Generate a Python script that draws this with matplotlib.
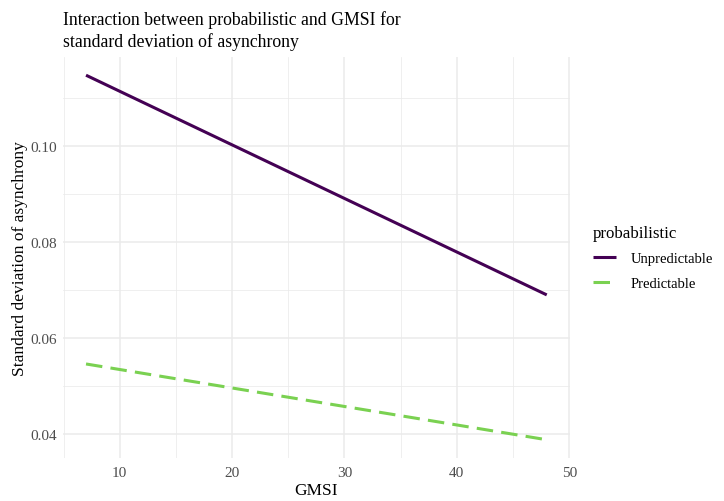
import numpy as np
import matplotlib.pyplot as plt
from matplotlib.ticker import MultipleLocator, FormatStrFormatter

# fitted lines (endpoints at GMSI = 7 and 48)
gmsi = [7, 48]
unpredictable = [0.1148, 0.0690]
predictable = [0.0546, 0.0388]
labels = ["Unpredictable", "Predictable"]
colors = ["#440154", "#7AD151"]

plt.rcParams['font.family'] = ['Liberation Serif', 'DejaVu Serif']

fig = plt.figure(figsize=(7.24, 5.02), dpi=100)
ax = fig.add_axes([0.087, 0.0857, 0.700, 0.7988])

ax.plot(gmsi, unpredictable, color=colors[0], lw=2.2, label=labels[0],
        solid_capstyle='butt')
ax.plot(gmsi, predictable, color=colors[1], lw=2.2, label=labels[1],
        dashes=(5.4, 2.7), dash_capstyle='butt')

# ggplot-like expansion of 5%
xr = gmsi[1] - gmsi[0]
ymin = min(predictable)
ymax = max(unpredictable)
yr = ymax - ymin
ax.set_xlim(gmsi[0] - 0.05 * xr, gmsi[1] + 0.05 * xr)
ax.set_ylim(ymin - 0.05 * yr, ymax + 0.05 * yr)

ax.xaxis.set_major_locator(MultipleLocator(10))
ax.xaxis.set_minor_locator(MultipleLocator(5))
ax.yaxis.set_major_locator(MultipleLocator(0.02))
ax.yaxis.set_minor_locator(MultipleLocator(0.01))
ax.yaxis.set_major_formatter(FormatStrFormatter('%.2f'))

ax.grid(which='major', color='#EBEBEB', lw=1.1)
ax.grid(which='minor', color='#EBEBEB', lw=0.55)
ax.set_axisbelow(True)
for s in ax.spines.values():
    s.set_visible(False)
ax.tick_params(which='both', length=0, labelsize=11, labelcolor='#4D4D4D')
ax.tick_params(axis='x', pad=6)
ax.tick_params(axis='y', pad=4)

ax.set_xlabel('GMSI', fontsize=12.5, labelpad=2)
ax.set_ylabel('Standard deviation of asynchrony', fontsize=12.5, labelpad=2)
ax.set_title('Interaction between probabilistic and GMSI for\nstandard deviation of asynchrony',
             fontsize=12.8, loc='left', pad=8, linespacing=1.3)

leg = ax.legend(title='probabilistic', loc='center left', bbox_to_anchor=(1.02, 0.5),
                frameon=False, fontsize=10.5, title_fontsize=12.2,
                handlelength=1.6, handletextpad=1.0, labelspacing=0.8)
leg._legend_box.align = 'left'

fig.savefig('out.png', dpi=100)
